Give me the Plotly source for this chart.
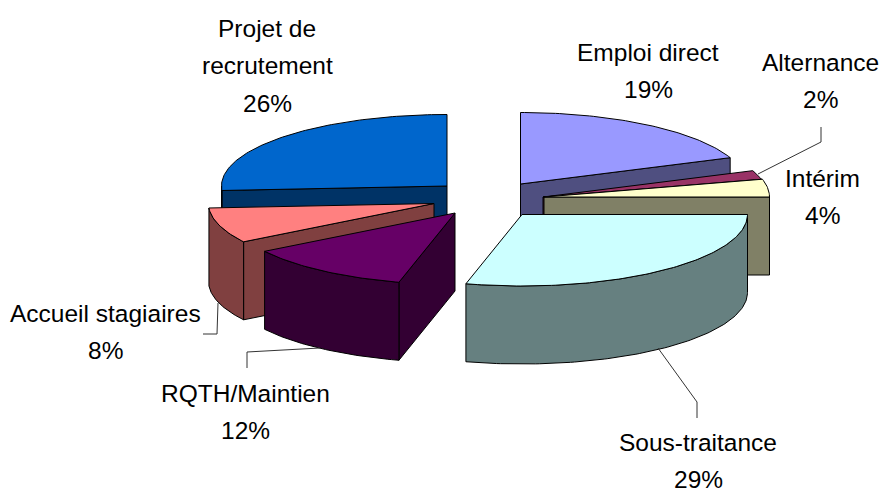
import math
import plotly.graph_objects as go

# --- data ---
categories = ["Emploi direct", "Alternance", "Intérim", "Sous-traitance",
              "RQTH/Maintien", "Accueil stagiaires", "Projet de recrutement"]
values = [19, 2, 4, 29, 12, 8, 26]
label_lines = [["Emploi direct"], ["Alternance"], ["Intérim"], ["Sous-traitance"],
               ["RQTH/Maintien"], ["Accueil stagiaires"], ["Projet de", "recrutement"]]

# --- styles / layout ---
top_colors = ["#9999FF", "#993366", "#FFFFCC", "#CCFFFF", "#660066", "#FF8080", "#0066CC"]
side_colors = ["#4F4F80", "#4D1A33", "#808066", "#668080", "#330033", "#804040", "#003366"]
apexes = [(520.5, 184), (543, 197), (544, 197), (522, 214.5), (455, 213), (434, 203.5), (447, 186)]
label_anchor = [(648, 52), (820, 62), (822, 178), (698, 442), (245, 393), (105, 313), (267, 28)]
leaders = [None,
           [(821, 127), (821, 142), (758, 174)],
           None,
           [(697, 418), (697, 402), (658, 348)],
           [(247, 368), (247, 352), (320, 348)],
           [(203, 334), (217, 334), (218, 303)],
           None]
draw_order = [6, 0, 1, 2, 5, 4, 3]
RX, RY, DEPTH = 225.5, 71.5, 78
LINE_STEP = 37.5
FONT = dict(family="Liberation Sans, Arial, sans-serif", size=24.5, color="#000000")

total = sum(values)
edges = [0.0]
for v in values:
    edges.append(edges[-1] + 360.0 * v / total)


def pt(apex, a, dz=0.0):
    r = math.radians(a)
    return apex[0] + RX * math.sin(r), apex[1] - RY * math.cos(r) + dz


def arc(apex, a0, a1, dz=0.0):
    n = max(2, int(abs(a1 - a0)) + 1)
    return [pt(apex, a0 + (a1 - a0) * i / n, dz) for i in range(n + 1)]


def poly(fig, pts, color):
    fig.add_trace(go.Scatter(
        x=[p[0] for p in pts] + [pts[0][0]],
        y=[p[1] for p in pts] + [pts[0][1]],
        mode="lines", fill="toself", fillcolor=color,
        line=dict(color="#000000", width=1), hoverinfo="skip", showlegend=False))


fig = go.Figure()
for i in draw_order:
    a0, a1 = edges[i], edges[i + 1]
    ap = apexes[i]
    ap_low = (ap[0], ap[1] + DEPTH)
    # radial cut faces that look toward the viewer
    if math.sin(math.radians(a0)) < -1e-9:
        poly(fig, [ap, pt(ap, a0), pt(ap, a0, DEPTH), ap_low], side_colors[i])
    if math.sin(math.radians(a1)) > 1e-9:
        poly(fig, [ap, pt(ap, a1), pt(ap, a1, DEPTH), ap_low], side_colors[i])
    # outer wall: front half of the ellipse only
    w0, w1 = max(a0, 90), min(a1, 270)
    if w1 > w0:
        poly(fig, arc(ap, w0, w1) + arc(ap, w1, w0, DEPTH), side_colors[i])
    # top face
    poly(fig, [ap] + arc(ap, a0, a1), top_colors[i])

for seg in leaders:
    if seg:
        fig.add_trace(go.Scatter(x=[p[0] for p in seg], y=[p[1] for p in seg], mode="lines",
                                 line=dict(color="#333333", width=1),
                                 hoverinfo="skip", showlegend=False))

for i, lines in enumerate(label_lines):
    x, y = label_anchor[i]
    for k, txt in enumerate(lines + [f"{values[i]}%"]):
        fig.add_annotation(x=x, y=y + k * LINE_STEP, text=txt, showarrow=False,
                           xanchor="center", yanchor="middle", font=FONT)

fig.update_layout(
    width=882, height=495, autosize=False,
    margin=dict(l=0, r=0, t=0, b=0),
    paper_bgcolor="#FFFFFF", plot_bgcolor="#FFFFFF", showlegend=False,
    xaxis=dict(range=[0, 882], visible=False, fixedrange=True),
    yaxis=dict(range=[495, 0], visible=False, fixedrange=True),
)
fig.write_html("out.html", config={"displayModeBar": False},
               post_script="document.documentElement.style.overflow='hidden';document.body.style.margin='0';")
